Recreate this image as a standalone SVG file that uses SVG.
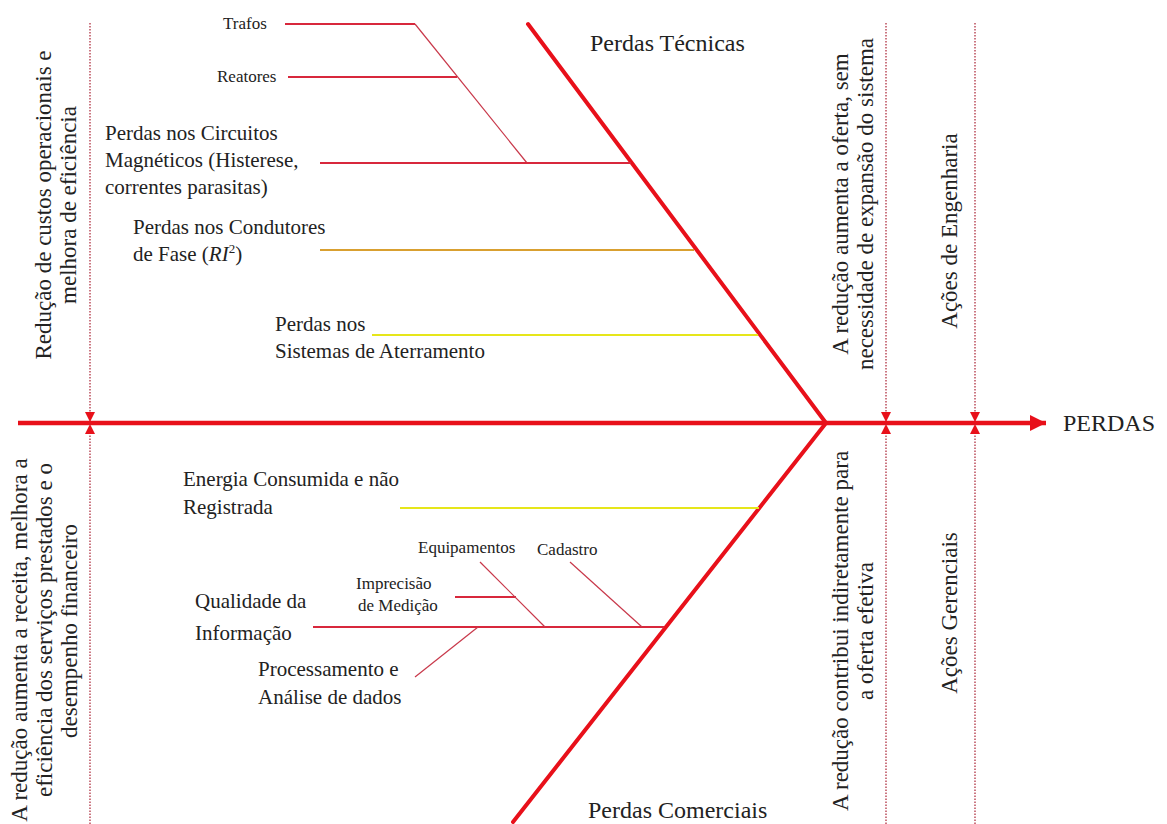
<svg xmlns="http://www.w3.org/2000/svg" width="1167" height="824" viewBox="0 0 1167 824">
<defs>
<style>
text{font-family:"Liberation Serif","Times New Roman",serif;fill:#222}
.lbl{font-size:21px}
.big{font-size:24px}
.sm{font-size:17px}
.rot{font-size:23px;text-anchor:middle}
.spine{stroke:#e8101a;stroke-width:4.5;fill:none}
.bone{stroke:#e8101a;stroke-width:4;fill:none;stroke-linecap:round}
.br{stroke:#d8283c;stroke-width:2;fill:none}
.thin{stroke:#c8384a;stroke-width:1.2;fill:none}
.dot{stroke:#b03040;stroke-width:1.3;stroke-dasharray:1.5 1.5;fill:none}
</style>
<marker id="tri" viewBox="0 0 10 10" refX="10" refY="5" markerWidth="10" markerHeight="10" markerUnits="userSpaceOnUse" orient="auto">
<path d="M0,0 L10,5 L0,10 Z" fill="#e8101a"/>
</marker>
<marker id="head" viewBox="0 0 10 10" refX="10" refY="5" markerWidth="16" markerHeight="16" markerUnits="userSpaceOnUse" orient="auto">
<path d="M0,0 L10,5 L0,10 Z" fill="#e8101a"/>
</marker>
</defs>
<rect width="1167" height="824" fill="#fff"/>

<g id="connectors">
<line class="spine" x1="18" y1="423" x2="1046" y2="423" marker-end="url(#head)"/>
<line class="bone" x1="528" y1="24" x2="826" y2="423"/>
<line class="bone" x1="826" y1="423" x2="513" y2="822"/>
<line class="dot" x1="90" y1="23" x2="90" y2="422" marker-end="url(#tri)"/>
<line class="dot" x1="90" y1="824" x2="90" y2="424" marker-end="url(#tri)"/>
<line class="dot" x1="886" y1="23" x2="886" y2="422" marker-end="url(#tri)"/>
<line class="dot" x1="886" y1="824" x2="886" y2="424" marker-end="url(#tri)"/>
<line class="dot" x1="975" y1="23" x2="975" y2="422" marker-end="url(#tri)"/>
<line class="dot" x1="975" y1="824" x2="975" y2="424" marker-end="url(#tri)"/>
<line class="br" x1="285" y1="24" x2="415" y2="24"/>
<line class="br" x1="288" y1="77" x2="457" y2="77"/>
<line class="thin" x1="415" y1="24" x2="527" y2="163"/>
<line class="br" x1="320" y1="163" x2="631" y2="163"/>
<line stroke="#d9a030" stroke-width="2.2" x1="320" y1="250" x2="694" y2="250"/>
<line stroke="#e6e61a" stroke-width="2.2" x1="372" y1="335" x2="758" y2="335"/>
<line stroke="#e6e61a" stroke-width="2.2" x1="400" y1="508" x2="759" y2="508"/>
<line class="br" x1="313" y1="627" x2="664" y2="627"/>
<line class="br" x1="455" y1="597" x2="516" y2="597"/>
<line class="thin" x1="480" y1="562" x2="545" y2="627"/>
<line class="thin" x1="570" y1="562" x2="642" y2="627"/>
<line class="thin" x1="415" y1="677" x2="478" y2="627"/>
</g>

<g id="perdas"><text class="big" x="1063" y="431">PERDAS</text></g>
<g id="perdas-tecnicas"><text class="big" x="590" y="51">Perdas Técnicas</text></g>
<g id="perdas-comerciais"><text class="big" x="588" y="818">Perdas Comerciais</text></g>

<g id="trafos"><text class="sm" x="223" y="29">Trafos</text></g>
<g id="reatores"><text class="sm" x="217" y="82">Reatores</text></g>
<g id="circuitos"><text class="lbl" x="105" y="140">Perdas nos Circuitos</text><text class="lbl" x="105" y="167">Magnéticos (Histerese,</text><text class="lbl" x="105" y="194">correntes parasitas)</text></g>
<g id="condutores"><text class="lbl" x="133" y="234">Perdas nos Condutores</text><text class="lbl" x="133" y="261">de Fase (<tspan font-style="italic">RI</tspan><tspan font-size="13" dy="-8">2</tspan><tspan dy="8">)</tspan></text></g>
<g id="aterramento"><text class="lbl" x="275" y="331">Perdas nos</text><text class="lbl" x="275" y="358">Sistemas de Aterramento</text></g>

<g id="energia"><text class="lbl" x="183" y="486">Energia Consumida e não</text><text class="lbl" x="183" y="514">Registrada</text></g>
<g id="equipamentos"><text class="sm" x="418" y="553">Equipamentos</text></g>
<g id="cadastro"><text class="sm" x="537" y="555">Cadastro</text></g>
<g id="imprecisao"><text class="sm" x="356" y="589">Imprecisão</text><text class="sm" x="358" y="611">de Medição</text></g>
<g id="qualidade"><text class="lbl" x="195" y="608">Qualidade da</text><text class="lbl" x="195" y="640">Informação</text></g>
<g id="processamento"><text class="lbl" x="258" y="676">Processamento e</text><text class="lbl" x="258" y="704">Análise de dados</text></g>

<g id="nota-custos" transform="translate(0,205) rotate(-90)"><text class="rot" x="0" y="51">Redução de custos operacionais e</text><text class="rot" x="0" y="76">melhora de eficiência</text></g>
<g id="nota-receita"><text class="rot" transform="translate(0,640) rotate(-90)" x="0" y="27">A redução aumenta a receita, melhora a</text><text class="rot" transform="translate(0,630) rotate(-90)" x="0" y="52">eficiência dos serviços prestados e o</text><text class="rot" transform="translate(0,631) rotate(-90)" x="0" y="77">desempenho financeiro</text></g>
<g id="nota-oferta" transform="translate(0,204) rotate(-90)"><text class="rot" x="0" y="848">A redução aumenta a oferta, sem</text><text class="rot" x="0" y="873">necessidade de expansão do sistema</text></g>
<g id="nota-indireta" transform="translate(0,631) rotate(-90)"><text class="rot" x="0" y="848">A redução contribui indiretamente para</text><text class="rot" x="0" y="873">a oferta efetiva</text></g>
<g id="acoes-engenharia" transform="translate(0,231) rotate(-90)"><text class="rot" x="0" y="957">Ações de Engenharia</text></g>
<g id="acoes-gerenciais" transform="translate(0,613) rotate(-90)"><text class="rot" x="0" y="957">Ações Gerenciais</text></g>
</svg>
